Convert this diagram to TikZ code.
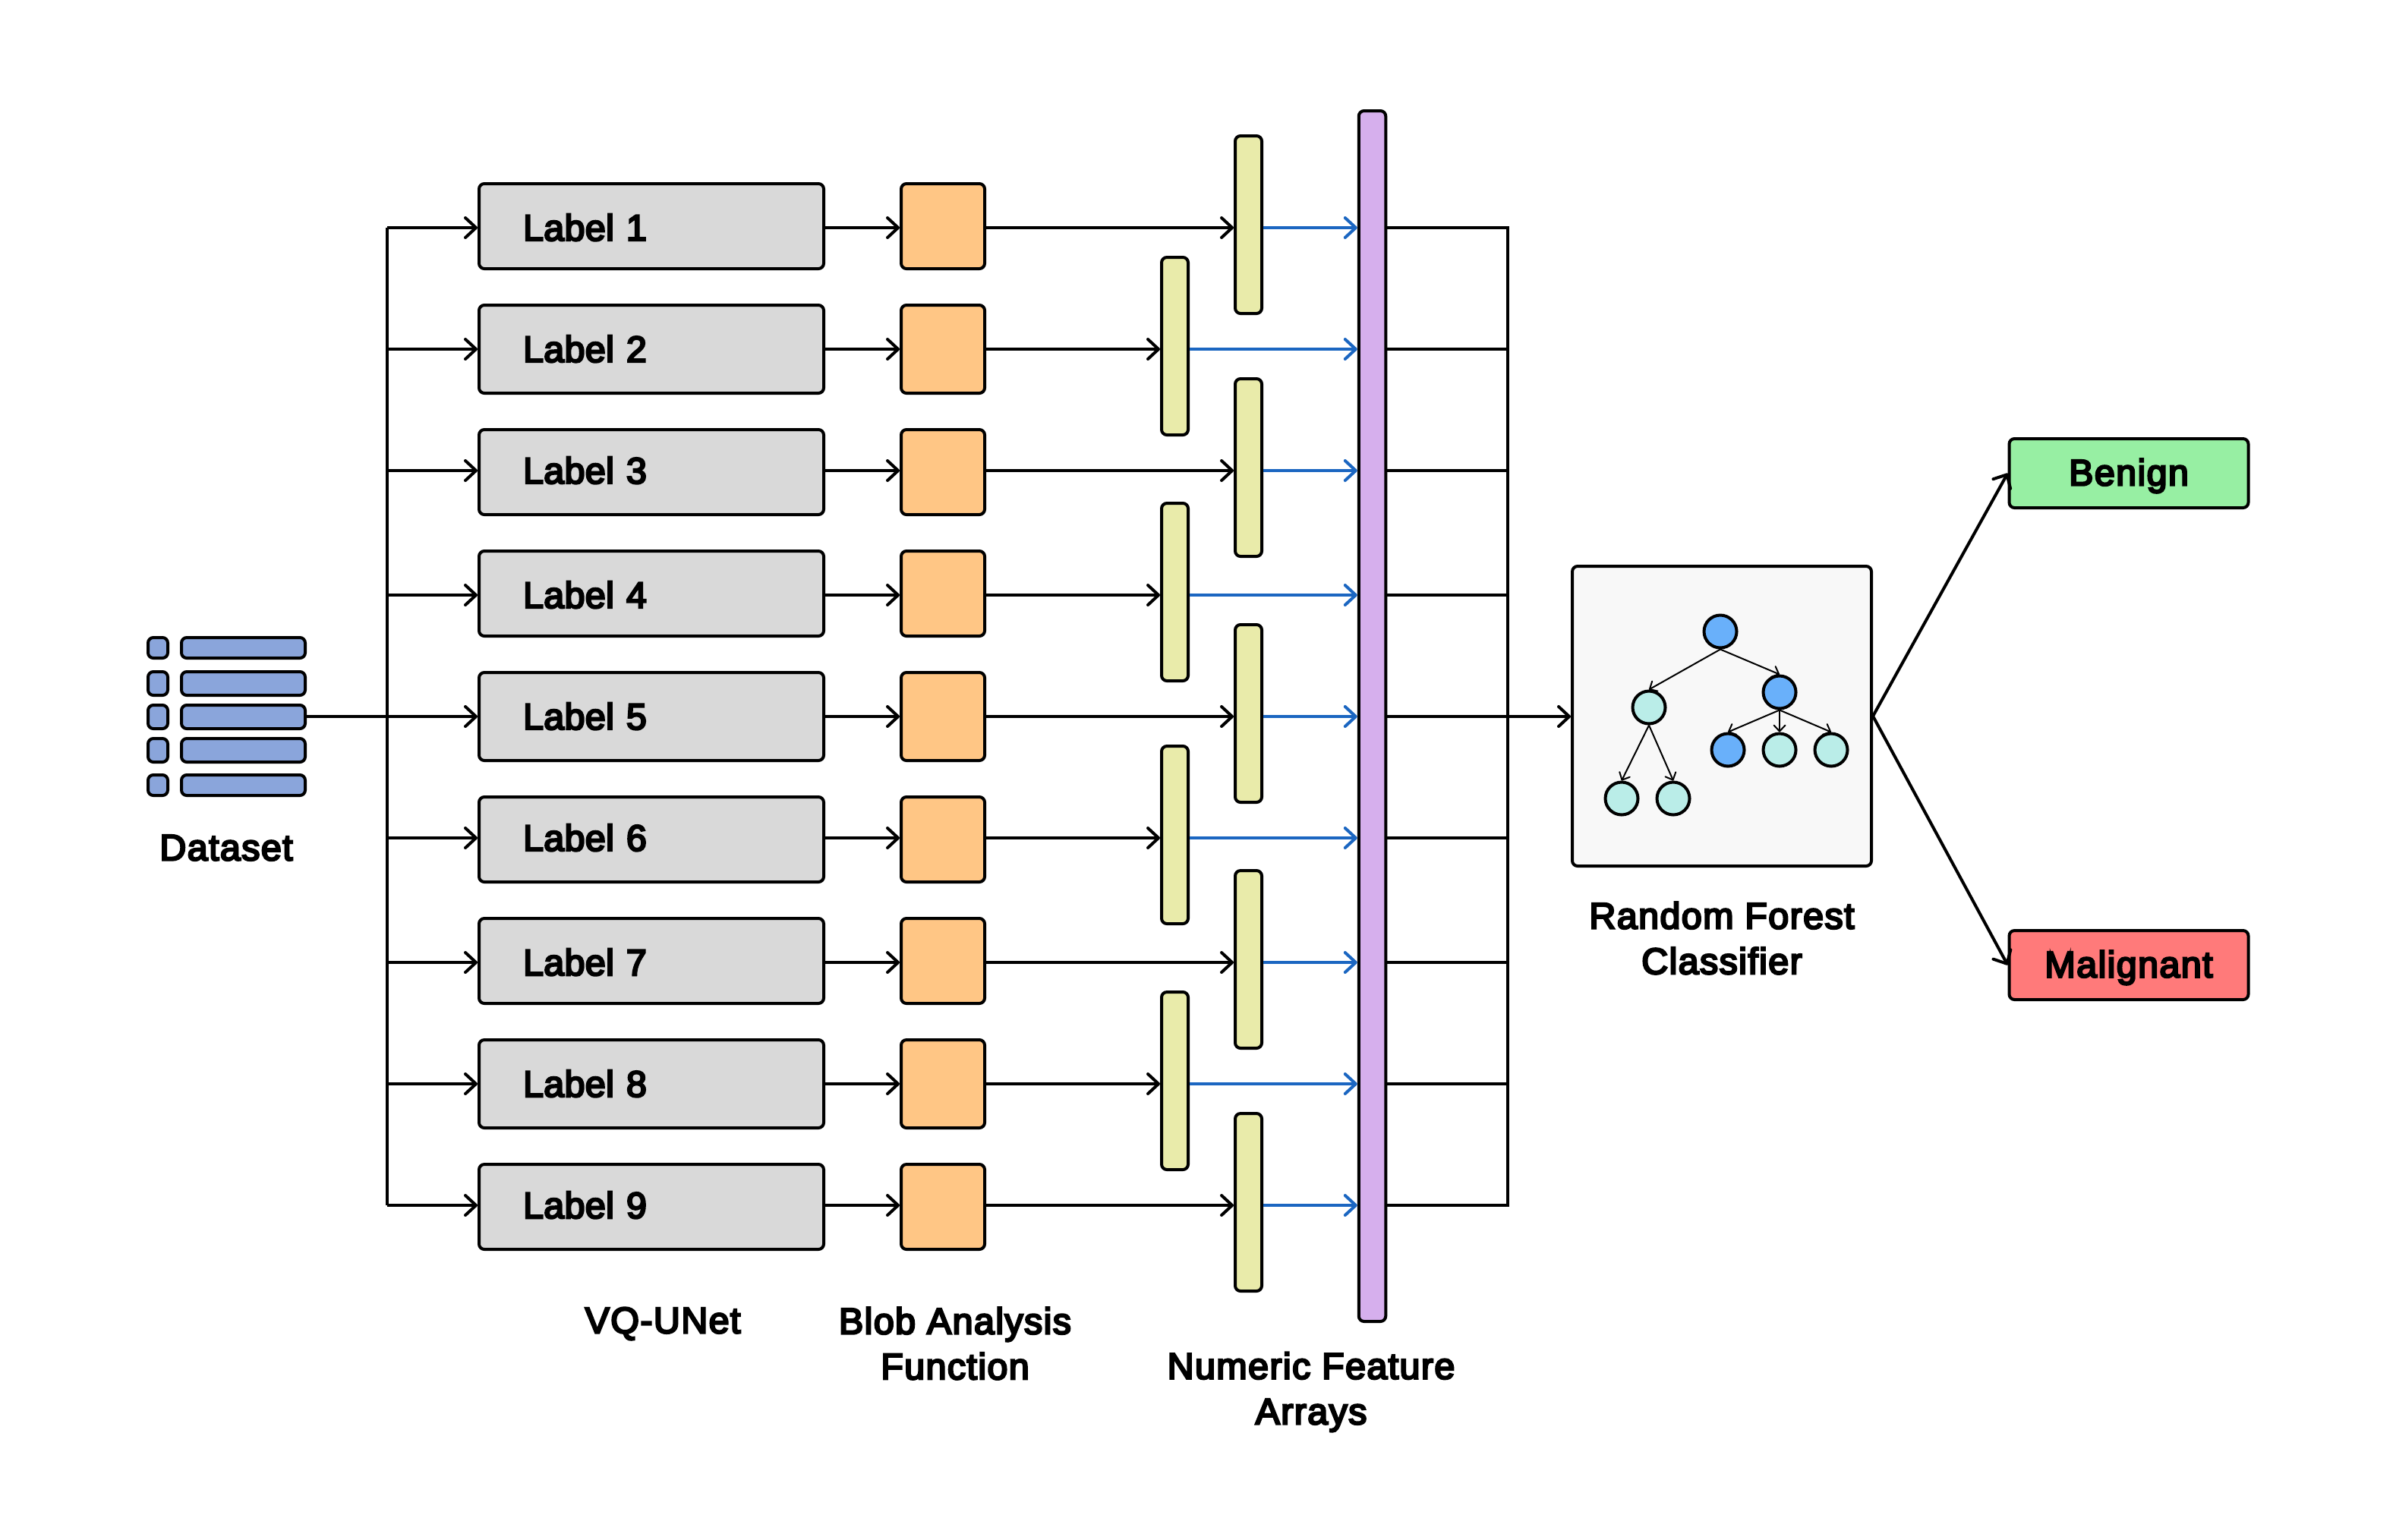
\documentclass[tikz,border=0pt]{standalone}
\usepackage{fontspec}
\setmainfont[FakeBold=5,LetterSpace=2.8]{Liberation Sans}
\newfontfamily\labfont[FakeBold=5,LetterSpace=.6]{Liberation Sans}
\usepackage{xcolor}
\usepackage{tikz}
\usetikzlibrary{arrows.meta,positioning,calc}
\definecolor{boxgrey}{RGB}{217,217,217}
\definecolor{amber}{RGB}{255,198,133}
\definecolor{straw}{RGB}{233,235,170}
\definecolor{lilac}{RGB}{214,175,237}
\definecolor{wire}{RGB}{27,102,193}
\definecolor{barblue}{RGB}{138,165,219}
\definecolor{panel}{RGB}{248,248,248}
\definecolor{sky}{RGB}{105,176,250}
\definecolor{mint}{RGB}{186,237,232}
\definecolor{leaf}{RGB}{151,239,163}
\definecolor{coral}{RGB}{255,122,122}

\begin{document}
\begin{tikzpicture}[
      font=\fontsize{13.8}{17}\selectfont,
      base/.style={draw=black,line width=.4mm,rounded corners=.7mm,inner sep=0pt},
      lab/.style={base,fill=boxgrey,minimum width=4.54cm,minimum height=11.2mm,text width=3.38cm,
                  align=left,text height=3.4mm,text depth=0pt,font=\fontsize{13.8}{17}\labfont},
      labt/.style={lab,minimum height=11.6mm},
      labdn/.style={lab,text height=3.8mm},
      labup/.style={lab,text depth=.4mm},
      org/.style={base,fill=amber,minimum width=11mm,minimum height=11.2mm},
      orgt/.style={org,minimum height=11.6mm},
      yel/.style={base,fill=straw,minimum width=3.5mm,minimum height=23.4mm},
      dsq/.style={base,fill=barblue,minimum width=2.6mm,minimum height=2.7mm},
      dbar/.style={dsq,minimum width=16.3mm},
      dtall/.style={minimum height=3.1mm},
      verdict/.style={base,minimum width=31.5mm,minimum height=9.1mm,text height=3.4mm,text depth=.2mm},
      blob/.style={circle,draw=black,line width=.4mm,inner sep=0pt,minimum size=4.3mm},
      capt/.style={align=center},
      ar/.style={-{Straight Barb[length=1.4mm,width=2.6mm,round]},line width=.4mm,color=black},
      arb/.style={ar,color=wire},
      tr/.style={-{Straight Barb[length=.8mm,width=1.5mm,round]},line width=.2mm,color=black}]
      \useasboundingbox (0,0) rectangle (31.56,-20.28);
      % row heights of the arrows
      \coordinate (r1) at (0,-3.00); \coordinate (r2) at (0,-4.60); \coordinate (r3) at (0,-6.20);
      \coordinate (r4) at (0,-7.84); \coordinate (r5) at (0,-9.44); \coordinate (r6) at (0,-11.04);
      \coordinate (r7) at (0,-12.68); \coordinate (r8) at (0,-14.28); \coordinate (r9) at (0,-15.88);
      \coordinate (busl) at (5.10,0); \coordinate (busr) at (19.86,0);
      % dataset icon
      \node[dsq] (dsq1) at (2.08,-8.535) {};
      \node[dsq,dtall,below=1.4mm of dsq1] (dsq2) {};
      \node[dsq,dtall,below=.9mm of dsq2] (dsq3) {};
      \node[dsq,dtall,below=.9mm of dsq3] (dsq4) {};
      \node[dsq,below=1.3mm of dsq4] (dsq5) {};
      \node[dbar,right=1.4mm of dsq1] (dbar1) {};
      \node[dbar,dtall,right=1.4mm of dsq2] (dbar2) {};
      \node[dbar,dtall,right=1.4mm of dsq3] (dbar3) {};
      \node[dbar,dtall,right=1.4mm of dsq4] (dbar4) {};
      \node[dbar,right=1.4mm of dsq5] (dbar5) {};
      \node[capt] (datacap) at (2.98,-11.17) {Dataset};
      % segmentation labels
      \node[labdn] (lab1) at (8.58,-2.98) {Label 1};
      \node[labt,below=4.4mm of lab1] (lab2) {Label 2};
      \node[labup,below=4.4mm of lab2] (lab3) {Label 3};
      \node[labdn,below=4.4mm of lab3] (lab4) {Label 4};
      \node[labt,below=4.4mm of lab4] (lab5) {Label 5};
      \node[labup,below=4.4mm of lab5] (lab6) {Label 6};
      \node[labdn,below=4.4mm of lab6] (lab7) {Label 7};
      \node[labt,below=4.4mm of lab7] (lab8) {Label 8};
      \node[labup,below=4.4mm of lab8] (lab9) {Label 9};
      % blob analysis
      \node[org,right=9.8mm of lab1] (org1) {}; \node[orgt,right=9.8mm of lab2] (org2) {};
      \node[org,right=9.8mm of lab3] (org3) {}; \node[org,right=9.8mm of lab4] (org4) {};
      \node[orgt,right=9.8mm of lab5] (org5) {}; \node[org,right=9.8mm of lab6] (org6) {};
      \node[org,right=9.8mm of lab7] (org7) {}; \node[orgt,right=9.8mm of lab8] (org8) {};
      \node[org,right=9.8mm of lab9] (org9) {};
      % feature arrays
      \node[yel] (yel1) at (16.445,-2.96) {};
      \node[yel,below=8.2mm of yel1] (yel3) {};
      \node[yel,below=8.6mm of yel3] (yel5) {};
      \node[yel,below=8.6mm of yel5] (yel7) {};
      \node[yel,below=8.2mm of yel7] (yel9) {};
      \node[yel] (yel2) at (15.475,-4.56) {};
      \node[yel,below=8.6mm of yel2] (yel4) {};
      \node[yel,below=8.2mm of yel4] (yel6) {};
      \node[yel,below=8.6mm of yel6] (yel8) {};
      \node[base,fill=lilac,minimum width=3.55mm,minimum height=159.5mm] (merge) at (18.075,-9.435) {};
      % classifier with its small tree
      \node[base,fill=panel,minimum width=39.4mm,minimum height=39.5mm] (rf) at (22.68,-9.435) {};
      \node[blob,fill=sky] (root) at (22.66,-8.32) {};
      \node[blob,fill=mint] (tl) at (21.72,-9.32) {};
      \node[blob,fill=sky] (tr) at (23.44,-9.12) {};
      \node[blob,fill=mint] (tla) at (21.36,-10.52) {};
      \node[blob,fill=mint] (tlb) at (22.04,-10.52) {};
      \node[blob,fill=sky] (tra) at (22.76,-9.88) {};
      \node[blob,fill=mint] (trb) at (23.44,-9.88) {};
      \node[blob,fill=mint] (trc) at (24.12,-9.88) {};
      \node[verdict,fill=leaf] (ben) at (28.04,-6.235) {Benign};
      \node[verdict,fill=coral] (mal) at (28.04,-12.715) {Malignant};
      % captions
      \node[capt] (unetcap) at (8.73,-17.44) {VQ-UNet};
      \node[capt] (blobcap) at (12.58,-17.70) {Blob Analysis\\Function};
      \node[capt] (featcap) at (17.27,-18.34) {Numeric Feature\\Arrays};
      \node[capt] (rfcap) at (22.68,-12.36) {Random Forest\\Classifier};
      % buses and arrows
      \draw[line width=.4mm] (r1 -| busl) -- (r9 -| busl);
      \draw[line width=.4mm,line cap=rect] (r1 -| merge.east) -| (r9 -| busr) -- (r9 -| merge.east);
      \draw[ar] (dbar3.east |- r5) -- (r5 -| lab5.west);
      \draw[ar] (r1 -| busl) -- (r1 -| lab1.west); \draw[ar] (r2 -| busl) -- (r2 -| lab2.west);
      \draw[ar] (r3 -| busl) -- (r3 -| lab3.west); \draw[ar] (r4 -| busl) -- (r4 -| lab4.west);
      \draw[ar] (r6 -| busl) -- (r6 -| lab6.west); \draw[ar] (r7 -| busl) -- (r7 -| lab7.west);
      \draw[ar] (r8 -| busl) -- (r8 -| lab8.west); \draw[ar] (r9 -| busl) -- (r9 -| lab9.west);
      \draw[ar] (r1 -| lab1.east) -- (r1 -| org1.west); \draw[ar] (r2 -| lab2.east) -- (r2 -| org2.west);
      \draw[ar] (r3 -| lab3.east) -- (r3 -| org3.west); \draw[ar] (r4 -| lab4.east) -- (r4 -| org4.west);
      \draw[ar] (r5 -| lab5.east) -- (r5 -| org5.west); \draw[ar] (r6 -| lab6.east) -- (r6 -| org6.west);
      \draw[ar] (r7 -| lab7.east) -- (r7 -| org7.west); \draw[ar] (r8 -| lab8.east) -- (r8 -| org8.west);
      \draw[ar] (r9 -| lab9.east) -- (r9 -| org9.west);
      \draw[ar] (r1 -| org1.east) -- (r1 -| yel1.west); \draw[ar] (r2 -| org2.east) -- (r2 -| yel2.west);
      \draw[ar] (r3 -| org3.east) -- (r3 -| yel3.west); \draw[ar] (r4 -| org4.east) -- (r4 -| yel4.west);
      \draw[ar] (r5 -| org5.east) -- (r5 -| yel5.west); \draw[ar] (r6 -| org6.east) -- (r6 -| yel6.west);
      \draw[ar] (r7 -| org7.east) -- (r7 -| yel7.west); \draw[ar] (r8 -| org8.east) -- (r8 -| yel8.west);
      \draw[ar] (r9 -| org9.east) -- (r9 -| yel9.west);
      \draw[arb] (r1 -| yel1.east) -- (r1 -| merge.west); \draw[arb] (r2 -| yel2.east) -- (r2 -| merge.west);
      \draw[arb] (r3 -| yel3.east) -- (r3 -| merge.west); \draw[arb] (r4 -| yel4.east) -- (r4 -| merge.west);
      \draw[arb] (r5 -| yel5.east) -- (r5 -| merge.west); \draw[arb] (r6 -| yel6.east) -- (r6 -| merge.west);
      \draw[arb] (r7 -| yel7.east) -- (r7 -| merge.west); \draw[arb] (r8 -| yel8.east) -- (r8 -| merge.west);
      \draw[arb] (r9 -| yel9.east) -- (r9 -| merge.west);
      \draw[line width=.4mm] (r2 -| merge.east) -- (r2 -| busr); \draw[line width=.4mm] (r3 -| merge.east) -- (r3 -| busr);
      \draw[line width=.4mm] (r4 -| merge.east) -- (r4 -| busr); \draw[line width=.4mm] (r6 -| merge.east) -- (r6 -| busr);
      \draw[line width=.4mm] (r7 -| merge.east) -- (r7 -| busr); \draw[line width=.4mm] (r8 -| merge.east) -- (r8 -| busr);
      \draw[ar] (r5 -| merge.east) -- (r5 -| rf.west);
      \draw[ar] (rf.east) -- (ben.west); \draw[ar] (rf.east) -- (mal.west);
      \draw[tr] (root.south) -- (tl.north); \draw[tr] (root.south) -- (tr.north);
      \draw[tr] (tl.south) -- (tla.north); \draw[tr] (tl.south) -- (tlb.north);
      \draw[tr] (tr.south) -- (tra.north); \draw[tr] (tr.south) -- (trb.north); \draw[tr] (tr.south) -- (trc.north);
    \end{tikzpicture}
\end{document}
